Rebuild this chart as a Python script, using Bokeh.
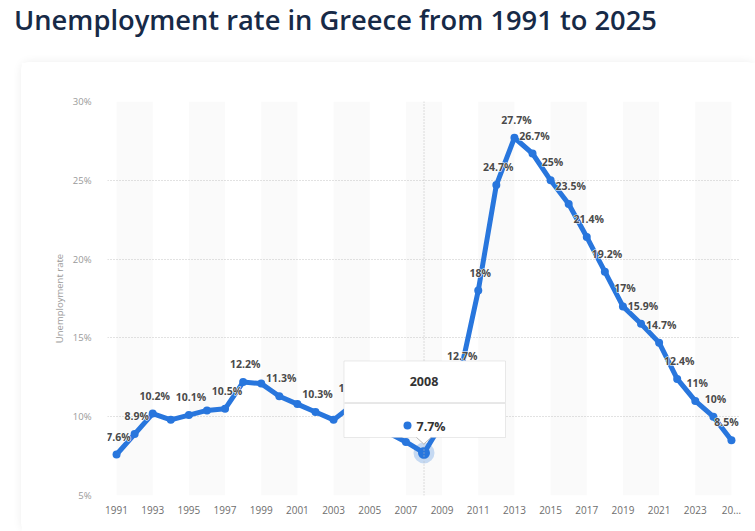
from bokeh.plotting import figure
from bokeh.layouts import column
from bokeh.models import (Range1d, FixedTicker, Label, BoxAnnotation, Span,
                          ColumnDataSource, Div)
from bokeh.core.properties import value
from bokeh.embed import file_html
from bokeh.resources import INLINE

# ---------------- data ----------------
years = list(range(1991, 2026))
rates = [7.6, 8.9, 10.2, 9.8, 10.1, 10.4, 10.5, 12.2, 12.1, 11.3,
         10.8, 10.3, 9.8, 10.7, 10.0, 9.0, 8.4, 7.7, 9.6, 12.7,
         18.0, 24.7, 27.7, 26.7, 25.0, 23.5, 21.4, 19.2, 17.0, 15.9,
         14.7, 12.4, 11.0, 10.0, 8.5]
labeled_years = [1991, 1992, 1993, 1995, 1997, 1998, 2000, 2002, 2004,
                 2010, 2011, 2012, 2013, 2014, 2015, 2016, 2017, 2018,
                 2019, 2020, 2021, 2022, 2023, 2024, 2025]
y_ticks = [5, 10, 15, 20, 25, 30]
x_ticks = list(range(1991, 2026, 2))
highlight_year = 2008
title_text = "Unemployment rate in Greece from 1991 to 2025"
y_title = "Unemployment rate"

# ---------------- layout constants (page pixels) ----------------
W, H = 755, 531
CARD_X, CARD_Y = 21, 62
FL, FR, FT, FB = 107, 740, 101, 495
X0, X1 = 1990.5, 2025.5
Y0, Y1 = 5, 30

def dx(px):
    return X0 + (px - FL) / (FR - FL) * (X1 - X0)

def dy(py):
    return Y0 + (FB - py) / (FB - FT) * (Y1 - Y0)

BLUE = "#2876dd"
FONT = "Open Sans"

title = Div(
    text=(f'<div style="font-family:\'Open Sans\';font-weight:600;'
          f'font-size:27.3px;line-height:30px;color:#172a47;'
          f'padding:5px 0 0 14px;white-space:nowrap;">{title_text}</div>'),
    width=W, height=CARD_Y, margin=(0, 0, 0, 0))

PW, PH = W - CARD_X, H - CARD_Y
p = figure(width=PW, height=PH, output_backend="svg", toolbar_location=None,
           x_range=Range1d(X0, X1), y_range=Range1d(Y0, Y1),
           min_border_left=FL - CARD_X, min_border_right=W - FR,
           min_border_top=FT - CARD_Y, min_border_bottom=H - FB,
           margin=(0, 0, 0, CARD_X),
           styles={"border-radius": "8px",
                   "box-shadow": "0 0 10px rgba(0,0,0,0.07)"})
p.outline_line_color = None
p.background_fill_color = "white"
p.border_fill_color = "white"

# grid
p.xgrid.grid_line_color = None
p.ygrid.ticker = FixedTicker(ticks=y_ticks)
p.ygrid.grid_line_color = "#c4c4c4"
p.ygrid.grid_line_dash = "1 2"
p.ygrid.grid_line_width = 1

# alternating bands
band_left = [y for y in x_ticks[::2] if y < 2025]
band_right = [y + 2 for y in band_left]
p.quad(left=band_left, right=band_right, bottom=Y0, top=Y1,
       fill_color="#fafafa", line_color=None, level="underlay")

# axes
yax = p.yaxis[0]
yax.ticker = FixedTicker(ticks=y_ticks)
yax.major_label_overrides = {t: f"{t}%" for t in y_ticks}
yax.axis_line_color = None
yax.major_tick_line_color = None
yax.minor_tick_line_color = None
yax.major_label_text_font = FONT
yax.major_label_text_font_size = "9.5px"
yax.major_label_text_color = "#9a9a9a"
yax.major_label_standoff = 10
yax.axis_label = y_title
yax.axis_label_text_font = FONT
yax.axis_label_text_font_size = "9.5px"
yax.axis_label_text_font_style = "normal"
yax.axis_label_text_color = "#9a9a9a"
yax.axis_label_standoff = 4

xax = p.xaxis[0]
xax.ticker = FixedTicker(ticks=x_ticks)
xax.major_label_overrides = {2025: "20\u2026"}
xax.axis_line_color = None
xax.major_tick_line_color = None
xax.minor_tick_line_color = None
xax.major_label_text_font = FONT
xax.major_label_text_font_size = "10px"
xax.major_label_text_color = "#6e6e6e"
xax.major_label_standoff = 1

# crosshair
p.add_layout(Span(location=highlight_year, dimension="height",
                  line_color="#bdbdbd", line_dash="1 2", line_width=1))

# line + points
src = ColumnDataSource(dict(x=years, y=rates))
p.line("x", "y", source=src, line_color=BLUE, line_width=5,
       line_join="round", line_cap="round")
p.scatter("x", "y", source=src, size=8, fill_color=BLUE, line_color=None)

# data labels (white halo layer, then text); last label nudged inside frame
lx = [y for y in years if y in labeled_years]
ly = [rates[years.index(y)] for y in lx]
lt = [f"{v:g}%" for v in ly]
lxo = [-5 if y == years[-1] else 2 for y in lx]
lsrc = ColumnDataSource(dict(x=lx, y=ly, t=lt, xo=lxo))
common = dict(x="x", y="y", text="t", source=lsrc, x_offset="xo", y_offset=-18,
              text_align="center", text_baseline="middle",
              text_font=value(FONT), text_font_size="10.5px",
              text_font_style="bold")
p.text(text_color="white", text_outline_color="white", **common)
p.text(text_color="#4a4a4a", **common)

# highlighted point
hv = rates[years.index(highlight_year)]
p.scatter([highlight_year], [hv], size=21, fill_color=BLUE, fill_alpha=0.25,
          line_color=None)
p.scatter([highlight_year], [hv], size=12, fill_color=BLUE, line_color=None)

# tooltip
tip = BoxAnnotation(left=dx(343.5), right=dx(505), top=dy(360.5),
                    bottom=dy(437), fill_color="white", fill_alpha=1,
                    line_color="#b9b9b9", line_width=1)
p.add_layout(tip)
p.patch([dx(416), dx(423.3), dx(430.6)], [dy(436.5), dy(443.5), dy(436.5)],
        fill_color="white", line_color=None, level="overlay")
p.multi_line([[dx(416), dx(423.3), dx(430.6)]],
             [[dy(437), dy(443.5), dy(437)]],
             line_color="#b9b9b9", line_width=1, level="overlay")
p.segment(x0=[dx(344)], x1=[dx(504.5)], y0=[dy(402.5)], y1=[dy(402.5)],
          line_color="#d0d0d0", line_width=1, level="overlay")
p.scatter([dx(407)], [dy(425)], size=8, fill_color=BLUE, line_color=None,
          level="overlay")
p.add_layout(Label(x=dx(423.5), y=dy(381), text=str(highlight_year),
                   text_align="center", text_baseline="middle",
                   text_font=FONT, text_font_size="12.5px",
                   text_font_style="bold", text_color="#333333"))
p.add_layout(Label(x=dx(416), y=dy(425.5), text=f"{hv:g}%",
                   text_align="left", text_baseline="middle",
                   text_font=FONT, text_font_size="12.5px",
                   text_font_style="bold", text_color="#333333"))

layout = column(title, p, margin=(0, 0, 0, 0), spacing=0)
open("out.html", "w").write(file_html(layout, INLINE))
